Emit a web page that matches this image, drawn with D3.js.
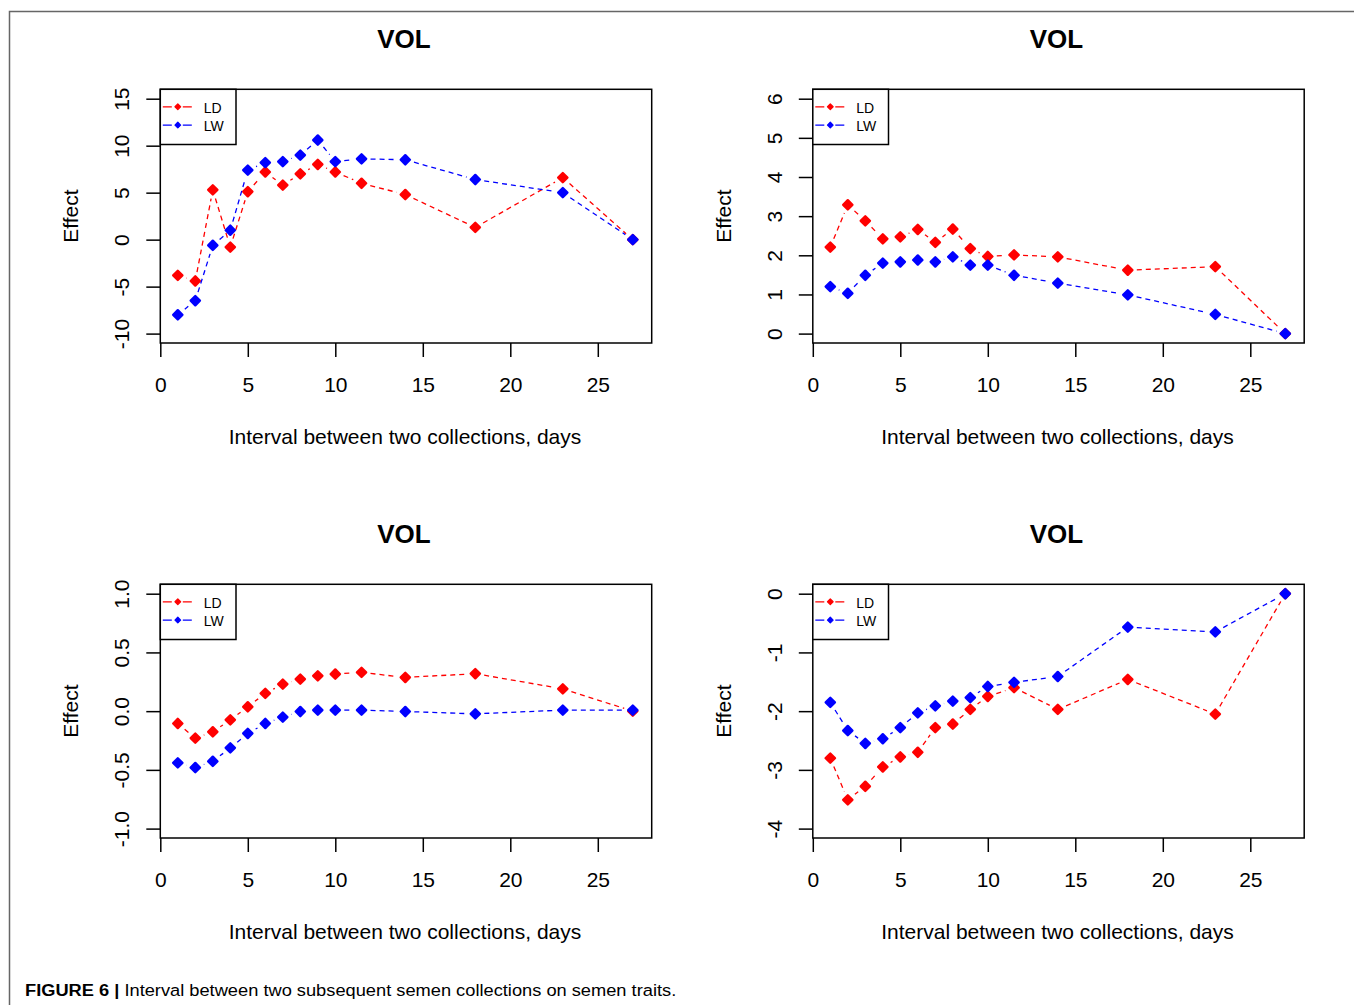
<!DOCTYPE html>
<html>
  <head>
    <meta charset="utf-8">
    <style>
      body { margin: 0; background: #fff; }
      text { font-family: "Liberation Sans", Arial, sans-serif; fill: #000; }
    </style>
  </head>
  <body>
    <script src="https://d3js.org/d3.v7.min.js"></script>
    <script>
    var width = 1354, height = 1005;

    // interval between two collections, days
    var days = [1, 2, 3, 4, 5, 6, 7, 8, 9, 10, 11.5, 14, 18, 23, 27];
    var xTicks = [0, 5, 10, 15, 20, 25];

    // top left
    var ldA = [-3.8, -4.4, 5.3, -0.8, 5.1, 7.2, 5.8, 7.0, 8.0, 7.2, 6.0, 4.8, 1.3, 6.6, 0];
    var lwA = [-8.0, -6.5, -0.6, 1.0, 7.4, 8.2, 8.3, 9.0, 10.6, 8.3, 8.6, 8.5, 6.4, 5.0, 0];
    var ticksA = [-10, -5, 0, 5, 10, 15];
    // top right
    var ldB = [2.21, 3.29, 2.88, 2.42, 2.47, 2.66, 2.33, 2.67, 2.17, 1.97, 2.01, 1.96, 1.62, 1.71, 0];
    var lwB = [1.20, 1.03, 1.49, 1.80, 1.83, 1.88, 1.83, 1.96, 1.75, 1.75, 1.49, 1.29, 0.99, 0.49, 0];
    var ticksB = [0, 1, 2, 3, 4, 5, 6];
    // bottom left
    var ldC = [-0.105, -0.23, -0.176, -0.074, 0.037, 0.151, 0.23, 0.273, 0.30, 0.316, 0.33, 0.287, 0.319, 0.19, 0];
    var lwC = [-0.44, -0.48, -0.427, -0.313, -0.19, -0.105, -0.051, -0.003, 0.009, 0.009, 0.009, -0.003, -0.023, 0.009, 0.009];
    var ticksC = [-1.0, -0.5, 0.0, 0.5, 1.0];
    // bottom right
    var ldD = [-2.80, -3.51, -3.28, -2.95, -2.78, -2.70, -2.28, -2.22, -1.97, -1.75, -1.60, -1.97, -1.46, -2.05, 0];
    var lwD = [-1.85, -2.33, -2.55, -2.47, -2.28, -2.03, -1.91, -1.83, -1.77, -1.58, -1.51, -1.41, -0.57, -0.65, 0];
    var ticksD = [-4, -3, -2, -1, 0];

    var seriesNames = ["LD", "LW"];
    var colors = ["#ff0000", "#0000ff"];

    var panels = [
      {ld: ldA, lw: lwA, ticks: ticksA, digits: 0, dx: 0, dy: 0},
      {ld: ldB, lw: lwB, ticks: ticksB, digits: 0, dx: 652.5, dy: 0},
      {ld: ldC, lw: lwC, ticks: ticksC, digits: 1, dx: 0, dy: 495},
      {ld: ldD, lw: lwD, ticks: ticksD, digits: 0, dx: 652.5, dy: 495}
    ];

    var svg = d3.select("body")
        .append("svg")
        .attr("width", width)
        .attr("height", height);

    // page frame
    svg.append("path")
        .attr("d", "M9.5," + height + "V11.5H" + width)
        .attr("fill", "none")
        .attr("stroke", "#666")
        .attr("stroke-width", 1.5);

    var box = {left: 160.3, right: 651.7, top: 89.3, bottom: 343};

    // R style: 4% padding around ylim
    function pad(lo, hi) { var r = (hi - lo) * 0.04; return [lo - r, hi + r]; }

    function diamond(s) {
      return "M0," + (-s) + "L" + s + ",0L0," + s + "L" + (-s) + ",0Z";
    }

    panels.forEach(function(p) {
      var g = svg.append("g").attr("transform", "translate(" + p.dx + "," + p.dy + ")");

      var x = d3.scaleLinear().domain([0, 28.08]).range([box.left, box.right]);
      var y = d3.scaleLinear().domain(pad(d3.min(p.ticks), d3.max(p.ticks))).range([box.bottom, box.top]);
      var fmt = function(v) { return v.toFixed(p.digits); };

      // lines with gaps around points (type = "b")
      var gap = 9;
      [p.ld, p.lw].forEach(function(vals, si) {
        var pts = days.map(function(d, i) { return [x(d), y(vals[i])]; });
        var segs = [];
        for (var i = 0; i < pts.length - 1; i++) {
          var a = pts[i], b = pts[i + 1];
          var dxl = b[0] - a[0], dyl = b[1] - a[1], len = Math.sqrt(dxl * dxl + dyl * dyl);
          if (len > 2 * gap) {
            var ux = dxl / len, uy = dyl / len;
            segs.push([[a[0] + ux * gap, a[1] + uy * gap], [b[0] - ux * gap, b[1] - uy * gap]]);
          }
        }
        g.append("g").selectAll("path")
          .data(segs)
          .enter().append("path")
            .attr("d", function(s) { return d3.line()(s); })
            .attr("fill", "none")
            .attr("stroke", colors[si])
            .attr("stroke-width", 1.3)
            .attr("stroke-dasharray", "5,4");

        g.append("g").selectAll("path")
          .data(pts)
          .enter().append("path")
            .attr("transform", function(d) { return "translate(" + d[0] + "," + d[1] + ")"; })
            .attr("d", diamond(4.6))
            .attr("fill", colors[si])
            .attr("stroke", colors[si])
            .attr("stroke-width", 2.4)
            .attr("stroke-linejoin", "round");
      });

      // plot box
      g.append("rect")
          .attr("x", box.left).attr("y", box.top)
          .attr("width", box.right - box.left).attr("height", box.bottom - box.top)
          .attr("fill", "none").attr("stroke", "#000").attr("stroke-width", 1.5);

      // x axis
      var xa = g.append("g").attr("transform", "translate(0," + box.bottom + ")")
          .call(d3.axisBottom(x).tickValues(xTicks).tickSize(14).tickSizeOuter(0));
      xa.select(".domain").remove();
      xa.selectAll("line").attr("stroke-width", 1.5);
      xa.selectAll("text").attr("font-size", 21).attr("font-family", null).attr("dy", null).attr("y", 49);

      // y axis, labels parallel to the axis
      var ya = g.append("g").attr("transform", "translate(" + box.left + ",0)")
          .call(d3.axisLeft(y).tickValues(p.ticks).tickFormat(fmt).tickSize(14).tickSizeOuter(0));
      ya.select(".domain").remove();
      ya.selectAll("line").attr("stroke-width", 1.5);
      ya.selectAll("text")
          .attr("font-size", 21).attr("font-family", null)
          .attr("x", null).attr("dy", null)
          .attr("text-anchor", "middle")
          .attr("transform", "translate(-31,0) rotate(-90)");

      // title and axis labels
      var cx = (box.left + box.right) / 2;
      g.append("text").attr("x", cx - 2).attr("y", 48).attr("text-anchor", "middle")
          .attr("font-size", 26).attr("font-weight", "bold").text("VOL");
      g.append("text").attr("x", cx - 1).attr("y", 444).attr("text-anchor", "middle")
          .attr("font-size", 21).text("Interval between two collections, days");
      g.append("text").attr("transform", "translate(78," + ((box.top + box.bottom) / 2) + ") rotate(-90)")
          .attr("text-anchor", "middle").attr("font-size", 21).text("Effect");

      // legend
      var lg = g.append("g");
      lg.append("rect").attr("x", box.left).attr("y", box.top).attr("width", 75.7).attr("height", 55.2)
          .attr("fill", "#fff").attr("stroke", "#000").attr("stroke-width", 1.5);
      seriesNames.forEach(function(name, i) {
        var ly = box.top + 17.5 + i * 18.3;
        lg.append("line").attr("x1", box.left + 2.5).attr("x2", box.left + 33).attr("y1", ly).attr("y2", ly)
            .attr("stroke", colors[i]).attr("stroke-width", 1.3).attr("stroke-dasharray", "9,4,3,4");
        lg.append("path").attr("transform", "translate(" + (box.left + 17.5) + "," + ly + ")")
            .attr("d", diamond(2.8)).attr("fill", colors[i]).attr("stroke", colors[i])
            .attr("stroke-width", 1.3).attr("stroke-linejoin", "round");
        lg.append("text").attr("x", box.left + 43.5).attr("y", ly + 6)
            .attr("font-size", 14).attr("fill", "#222").text(name);
      });
    });

    // caption
    var cap = svg.append("text").attr("font-size", 17).attr("fill", "#222");
    cap.append("tspan").attr("font-weight", "bold").text("FIGURE 6 |");
    cap.append("tspan").text(" Interval between two subsequent semen collections on semen traits.");
    var w = cap.node().getComputedTextLength();
    cap.attr("transform", "translate(25,996) scale(" + (652 / w) + ",1)");
    </script>
  </body>
</html>
